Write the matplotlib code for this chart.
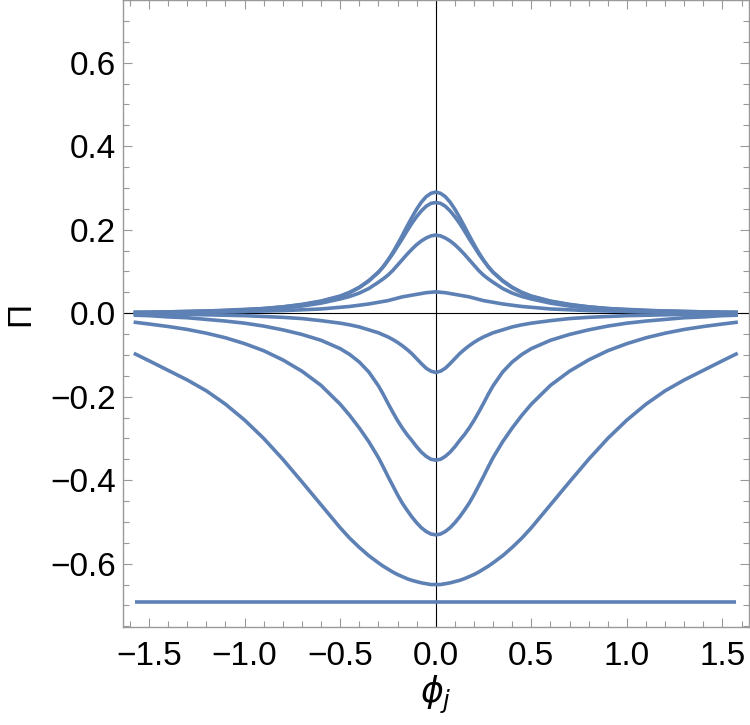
import matplotlib
matplotlib.use('Agg')
import matplotlib.pyplot as plt
from matplotlib.ticker import MultipleLocator
import numpy as np

plt.rcParams['font.family'] = ['Liberation Sans', 'DejaVu Sans']
plt.rcParams['mathtext.fontset'] = 'dejavusans'

# half grid (curves are symmetric in phi_j)
phi_half = [0, 0.025, 0.05, 0.075, 0.1, 0.125, 0.15, 0.175, 0.2, 0.225, 0.25, 0.275,
            0.3, 0.35, 0.4, 0.45, 0.5, 0.6, 0.7, 0.8, 0.9, 1.0, 1.1, 1.2, 1.3, 1.4,
            1.5, 1.571]

pi_a = [0.290, 0.287, 0.279, 0.266, 0.249, 0.229, 0.208, 0.186, 0.165, 0.145, 0.127, 0.111,
        0.098, 0.077, 0.061, 0.049, 0.040, 0.028, 0.020, 0.015, 0.011, 0.008, 0.006, 0.005,
        0.004, 0.003, 0.002, 0.002]
pi_b = [0.265, 0.263, 0.256, 0.245, 0.231, 0.215, 0.197, 0.178, 0.160, 0.142, 0.126, 0.111,
        0.098, 0.078, 0.062, 0.050, 0.041, 0.029, 0.021, 0.015, 0.011, 0.009, 0.007, 0.005,
        0.004, 0.003, 0.002, 0.002]
pi_c = [0.187, 0.185, 0.180, 0.173, 0.164, 0.153, 0.141, 0.128, 0.115, 0.102, 0.091, 0.082,
        0.074, 0.059, 0.048, 0.040, 0.034, 0.024, 0.017, 0.012, 0.009, 0.007, 0.005, 0.004,
        0.003, 0.002, 0.002, 0.001]
pi_d = [0.051, 0.050, 0.049, 0.047, 0.045, 0.043, 0.041, 0.039, 0.036, 0.033, 0.030, 0.028,
        0.026, 0.022, 0.019, 0.016, 0.014, 0.010, 0.008, 0.006, 0.005, 0.004, 0.003, 0.002,
        0.002, 0.001, 0.001, 0.001]
pi_e = [-0.142, -0.139, -0.132, -0.121, -0.109, -0.097, -0.087, -0.078, -0.070, -0.063, -0.057,
        -0.052, -0.047, -0.040, -0.033, -0.028, -0.024, -0.018, -0.013, -0.010, -0.008, -0.006,
        -0.005, -0.004, -0.003, -0.003, -0.002, -0.002]
pi_f = [-0.352, -0.350, -0.343, -0.333, -0.320, -0.305, -0.291, -0.275, -0.257, -0.237, -0.216,
        -0.194, -0.174, -0.141, -0.117, -0.099, -0.085, -0.065, -0.051, -0.040, -0.031, -0.024,
        -0.019, -0.015, -0.011, -0.009, -0.006, -0.005]
pi_g = [-0.531, -0.529, -0.523, -0.514, -0.502, -0.488, -0.472, -0.455, -0.435, -0.413, -0.391,
        -0.368, -0.346, -0.308, -0.275, -0.245, -0.218, -0.173, -0.139, -0.112, -0.090, -0.073,
        -0.059, -0.048, -0.039, -0.032, -0.026, -0.022]
pi_h = [-0.650, -0.650, -0.648, -0.646, -0.643, -0.640, -0.636, -0.631, -0.626, -0.620, -0.613,
        -0.606, -0.598, -0.581, -0.561, -0.539, -0.514, -0.459, -0.404, -0.350, -0.300, -0.256,
        -0.218, -0.186, -0.160, -0.137, -0.114, -0.098]
pi_flat = -0.693

curves = [pi_a, pi_b, pi_c, pi_d, pi_e, pi_f, pi_g, pi_h]

line_color = '#5e81b5'
frame_color = '#999999'
lw = 2.6

fig = plt.figure(figsize=(7.5, 7.25), dpi=100)
ax = fig.add_axes([0.164, 0.135, 0.835, 0.865])

# mirror the half tables to get the full symmetric curve
xh = np.array(phi_half)
x_full = np.concatenate([-xh[::-1], xh[1:]])
for c in curves:
    yh = np.array(c)
    y_full = np.concatenate([yh[::-1], yh[1:]])
    ax.plot(x_full, y_full, color=line_color, lw=lw, solid_joinstyle='round', zorder=3)
ax.plot([-phi_half[-1], phi_half[-1]], [pi_flat, pi_flat], color=line_color, lw=lw,
        solid_capstyle='butt', zorder=3)

# coordinate axes through the origin
ax.axhline(0, color='black', lw=0.8, zorder=2)
ax.axvline(0, color='black', lw=0.8, zorder=2)

ax.set_xlim(-1.636, 1.64)
ax.set_ylim(-0.752, 0.75)

ax.xaxis.set_major_locator(MultipleLocator(0.5))
ax.xaxis.set_minor_locator(MultipleLocator(0.1))
ax.yaxis.set_major_locator(MultipleLocator(0.2))
ax.yaxis.set_minor_locator(MultipleLocator(0.05))

ax.xaxis.set_major_formatter(lambda v, p: ('%.1f' % v).replace('-', '\u2212'))
ax.yaxis.set_major_formatter(lambda v, p: ('%.1f' % v).replace('-', '\u2212'))

ax.tick_params(which='both', direction='in', top=True, right=True,
               color=frame_color, width=0.8, labelsize=24, labelcolor='black')
ax.tick_params(which='major', length=6.7)
ax.tick_params(which='minor', length=4)
ax.tick_params(axis='x', which='major', pad=10)
ax.tick_params(axis='y', which='major', pad=5)

for s in ax.spines.values():
    s.set_color(frame_color)
    s.set_linewidth(1.0)

ax.set_xlabel(r'$\phi_j$', fontsize=25)
ax.set_ylabel('\u03a0', fontsize=24)
ax.xaxis.set_label_coords(0.5, -0.074)
ax.yaxis.set_label_coords(-0.138, 0.5)

fig.savefig('out.png', dpi=100)
